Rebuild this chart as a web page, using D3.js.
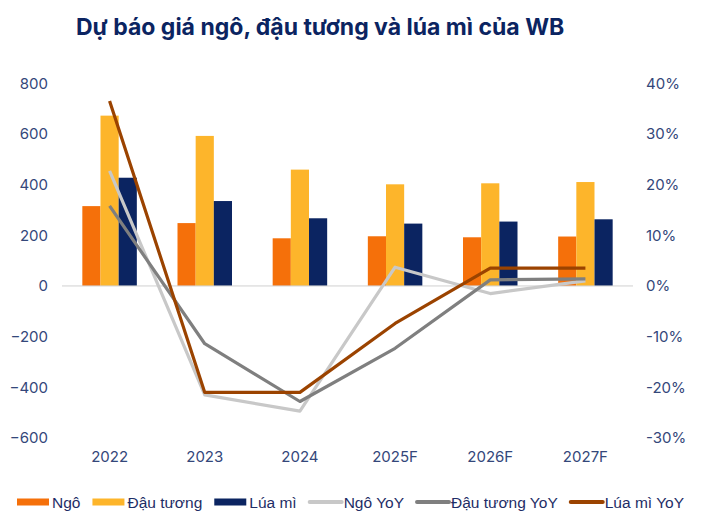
<!DOCTYPE html>
<html><head><meta charset="utf-8">
<script src="https://cdn.jsdelivr.net/npm/d3@7"></script>
<style>
body{margin:0;background:#ffffff;}
svg{display:block;}
</style></head>
<body>
<svg id="chart" width="705" height="521"></svg>
<script>
const title = "Dự báo giá ngô, đậu tương và lúa mì của WB";
const categories = ["2022","2023","2024","2025F","2026F","2027F"];
const barSeries = ["Ngô","Đậu tương","Lúa mì"];
const ngo = [315, 248, 188, 196, 192, 195];
const dauTuong = [672, 592, 459, 401, 405, 410];
const luaMi = [427, 335, 267, 246, 254, 263];
const lineSeries = ["Ngô YoY","Đậu tương YoY","Lúa mì YoY"];
const ngoYoY = [22.7, -21.5, -24.7, 3.7, -1.5, 1.0];
const dauTuongYoY = [15.8, -11.4, -22.8, -12.3, 1.2, 1.4];
const luaMiYoY = [36.5, -21.0, -21.0, -7.4, 3.5, 3.5];
const leftTicks = [-600,-400,-200,0,200,400,600,800];
const rightTicks = [-30,-20,-10,0,10,20,30,40];

const barColors = ["#f5700a","#fdb52b","#0b2461"];
const lineColors = ["#c8c8c8","#7f7f7f","#9b4300"];

const svg = d3.select("#chart");
svg.append("rect").attr("width",705).attr("height",521).attr("fill","#ffffff");

svg.append("text").attr("x",76).attr("y",35)
  .attr("font-family","Inter, 'Open Sans', sans-serif").attr("font-weight",700)
  .attr("font-size",23).attr("fill","#0b2461").text(title);

const x = d3.scaleBand().domain(categories).range([62,633]);
const yL = d3.scaleLinear().domain([-600,800]).range([438,83.2]);
const yR = d3.scaleLinear().domain([-30,40]).range([438,83.2]);
const x1 = d3.scaleBand().domain(barSeries).range([0,54.5]);
const groupOffset = (x.bandwidth()-54.5)/2;

const tickColor = "#34477a";
const axFont = "Inter, 'Open Sans', sans-serif";

const axL = svg.append("g").attr("transform","translate(48,0)")
  .call(d3.axisLeft(yL).tickValues(leftTicks).tickSize(0).tickPadding(0).tickFormat(d3.format("d")));
axL.select(".domain").remove();
axL.selectAll("text").attr("font-family",axFont).attr("font-size",15).attr("fill",tickColor);

const axR = svg.append("g").attr("transform","translate(646,0)")
  .call(d3.axisRight(yR).tickValues(rightTicks).tickSize(0).tickPadding(0).tickFormat(d=>d+"%"));
axR.select(".domain").remove();
axR.selectAll("text").attr("font-family",axFont).attr("font-size",15).attr("fill",tickColor);

const axB = svg.append("g").attr("transform","translate(0,449)")
  .call(d3.axisBottom(x).tickSize(0).tickPadding(0));
axB.select(".domain").remove();
axB.selectAll("text").attr("font-family",axFont).attr("font-size",15).attr("fill",tickColor).attr("dy","0.85em");

// bars
const barData = [ngo, dauTuong, luaMi];
barData.forEach((arr,si)=>{
  svg.append("g").selectAll("rect").data(arr).join("rect")
    .attr("x",(d,i)=>x(categories[i])+groupOffset+x1(barSeries[si]))
    .attr("width",x1.bandwidth())
    .attr("y",d=>yL(Math.max(0,d)))
    .attr("height",d=>Math.abs(yL(d)-yL(0)))
    .attr("fill",barColors[si]);
});

// zero line
svg.append("line").attr("x1",62).attr("x2",633).attr("y1",yL(0)).attr("y2",yL(0))
  .attr("stroke","#d0d0d0").attr("stroke-width",1);

// lines
const lineData = [ngoYoY, dauTuongYoY, luaMiYoY];
const line = d3.line().x((d,i)=>x(categories[i])+x.bandwidth()/2).y(d=>yR(d));
lineData.forEach((arr,si)=>{
  svg.append("path").datum(arr).attr("d",line).attr("fill","none")
    .attr("stroke",lineColors[si]).attr("stroke-width",3.2).attr("stroke-linejoin","round");
});

// legend (flowing layout)
const legFont = "'Liberation Sans',Arial,sans-serif";
const legendItems = barSeries.map((n,i)=>({name:n,color:barColors[i],type:"bar"}))
  .concat(lineSeries.map((n,i)=>({name:n,color:lineColors[i],type:"line"})));
const lg = svg.append("g");
const ly = 502;
let cx = 17;
legendItems.forEach(it=>{
  if(it.type==="bar"){
    lg.append("rect").attr("x",cx).attr("y",ly-3.5).attr("width",32).attr("height",7).attr("fill",it.color);
  } else {
    lg.append("line").attr("x1",cx+1).attr("x2",cx+33).attr("y1",ly).attr("y2",ly)
      .attr("stroke",it.color).attr("stroke-width",4).attr("stroke-linecap","round");
  }
  const t = lg.append("text").attr("x",cx+35).attr("y",ly).attr("dy","0.36em")
    .attr("font-family",legFont).attr("font-size",15.5).attr("fill","#1e2d66").text(it.name);
  cx = cx + 35 + t.node().getComputedTextLength() + 12;
});
</script>
</body></html>
